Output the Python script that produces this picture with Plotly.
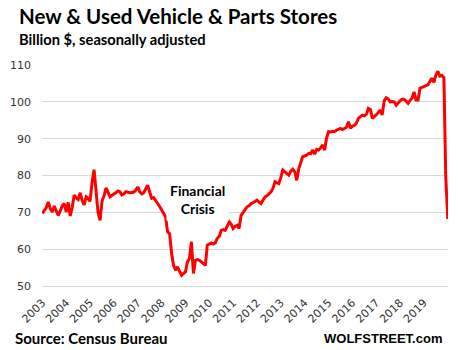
import pandas as pd
import plotly.graph_objects as go

# ---- data (billion $, seasonally adjusted), monthly from Apr 2003 to Apr 2020 ----
start_month = "2003-04-01"
v2003 = [69.7, 70.5, 71.3, 72.8, 71.0, 70.1, 71.7, 70.3, 69.2]
v2004 = [70.4, 71.8, 72.4, 70.1, 72.7, 69.0, 71.3, 74.7, 73.9, 73.5, 75.3, 73.2]
v2005 = [72.0, 74.2, 73.8, 73.0, 78.0, 81.6, 76.0, 70.0, 67.8, 73.0, 74.5, 76.6]
v2006 = [75.5, 74.2, 74.6, 74.9, 75.3, 75.8, 75.6, 74.7, 75.0, 75.6, 75.4, 75.3]
v2007 = [75.4, 75.5, 76.0, 76.9, 75.6, 75.0, 75.3, 76.5, 77.4, 75.5, 73.8, 74.0]
v2008 = [73.3, 72.4, 71.6, 70.6, 69.8, 68.8, 64.7, 64.2, 58.8, 55.6, 54.3, 55.2]
v2009 = [54.0, 52.9, 53.4, 53.8, 56.5, 57.5, 62.0, 53.4, 57.0, 57.2, 57.0, 56.5]
v2010 = [56.1, 55.6, 61.1, 61.5, 61.7, 61.4, 61.7, 62.9, 63.5, 65.1, 65.3, 65.1]
v2011 = [66.5, 67.4, 66.8, 65.6, 66.2, 66.5, 65.6, 69.2, 70.0, 70.8, 71.5, 71.8]
v2012 = [72.4, 72.6, 72.9, 73.3, 72.8, 72.4, 73.3, 74.2, 74.5, 75.0, 75.6, 76.5]
v2013 = [78.3, 78.0, 77.8, 79.5, 81.5, 81.0, 80.6, 80.1, 81.2, 81.7, 81.0, 78.7]
v2014 = [81.9, 83.5, 85.1, 85.3, 85.5, 86.0, 85.9, 86.9, 85.8, 87.1, 86.9, 87.5]
v2015 = [88.3, 86.9, 90.1, 91.9, 91.8, 92.0, 91.9, 92.3, 92.6, 92.8, 92.5, 92.7]
v2016 = [93.1, 94.6, 92.8, 93.4, 93.6, 94.2, 95.5, 96.0, 96.4, 96.2, 96.6, 98.2]
v2017 = [97.9, 95.5, 96.0, 96.4, 97.0, 97.8, 96.4, 100.3, 101.1, 100.8, 100.0, 100.1]
v2018 = [100.0, 99.1, 99.8, 100.3, 100.7, 100.7, 100.2, 99.6, 100.4, 101.0, 102.7, 100.5]
v2019 = [100.5, 103.7, 103.9, 104.2, 104.4, 104.6, 105.5, 106.4, 105.3, 107.3, 108.3, 107.0]
v2020 = [107.2, 106.6, 79.5, 68.2]

sales = (v2003 + v2004 + v2005 + v2006 + v2007 + v2008 + v2009 + v2010 + v2011
         + v2012 + v2013 + v2014 + v2015 + v2016 + v2017 + v2018 + v2019 + v2020)
months = pd.date_range(start_month, periods=len(sales), freq="MS")

year_labels = [str(y) for y in range(2003, 2020)]
tick_positions = [f"{y}-04-01" for y in year_labels]
y_ticks = [50, 60, 70, 80, 90, 100, 110]

# ---- layout geometry ----
W, H = 458, 350
L, R, T, B = 36, 10, 65, 64
pw, ph = W - L - R, H - T - B


def px(x):
    return (x - L) / pw


def py(y):
    return (H - B - y) / ph


fig = go.Figure()
fig.add_trace(go.Scatter(x=months, y=sales, mode="lines",
                         line=dict(color="#ff0000", width=3), hoverinfo="skip"))

fig.update_layout(
    width=W, height=H,
    margin=dict(l=L, r=R, t=T, b=B, pad=0),
    paper_bgcolor="white", plot_bgcolor="white",
    showlegend=False,
    xaxis=dict(
        type="date",
        range=["2003-03-27", "2020-04-04"],
        tickvals=tick_positions, ticktext=year_labels,
        tickangle=-45, showgrid=False, zeroline=False,
        showline=True, linecolor="#d9d9d9", linewidth=1, ticks="",
        ticklabelstandoff=5,
        tickfont=dict(family="DejaVu Sans", size=11, color="#333333"),
    ),
    yaxis=dict(
        range=[50, 110], tickvals=y_ticks,
        showgrid=True, gridcolor="#d9d9d9", gridwidth=1,
        zeroline=False, showline=False, ticks="",
        ticklabelstandoff=10,
        tickfont=dict(family="DejaVu Sans", size=11, color="#333333"),
    ),
)

anns = [
    dict(text="<b>New &amp; Used Vehicle &amp; Parts Stores</b>", x=px(11), y=py(16),
         xanchor="left", yanchor="middle", font=dict(family="Lato", size=20.5, color="black")),
    dict(text="<b>Billion $, seasonally adjusted</b>", x=px(11), y=py(39),
         xanchor="left", yanchor="middle", font=dict(family="Lato", size=14.7, color="black")),
    dict(text="<b>Financial<br>Crisis</b>", x=px(194), y=py(199),
         xanchor="center", yanchor="middle", bgcolor="white", borderpad=3,
         font=dict(family="Lato", size=14, color="black")),
    dict(text="<b>Source: Census Bureau</b>", x=px(7), y=py(338),
         xanchor="left", yanchor="middle", font=dict(family="Lato", size=15, color="black")),
    dict(text="<b>WOLFSTREET.com</b>", x=px(444), y=py(338),
         xanchor="right", yanchor="middle", font=dict(family="Liberation Sans", size=13, color="black")),
]
for a in anns:
    a.update(xref="paper", yref="paper", showarrow=False)
fig.update_layout(annotations=anns)

fig.write_html("out.html")
